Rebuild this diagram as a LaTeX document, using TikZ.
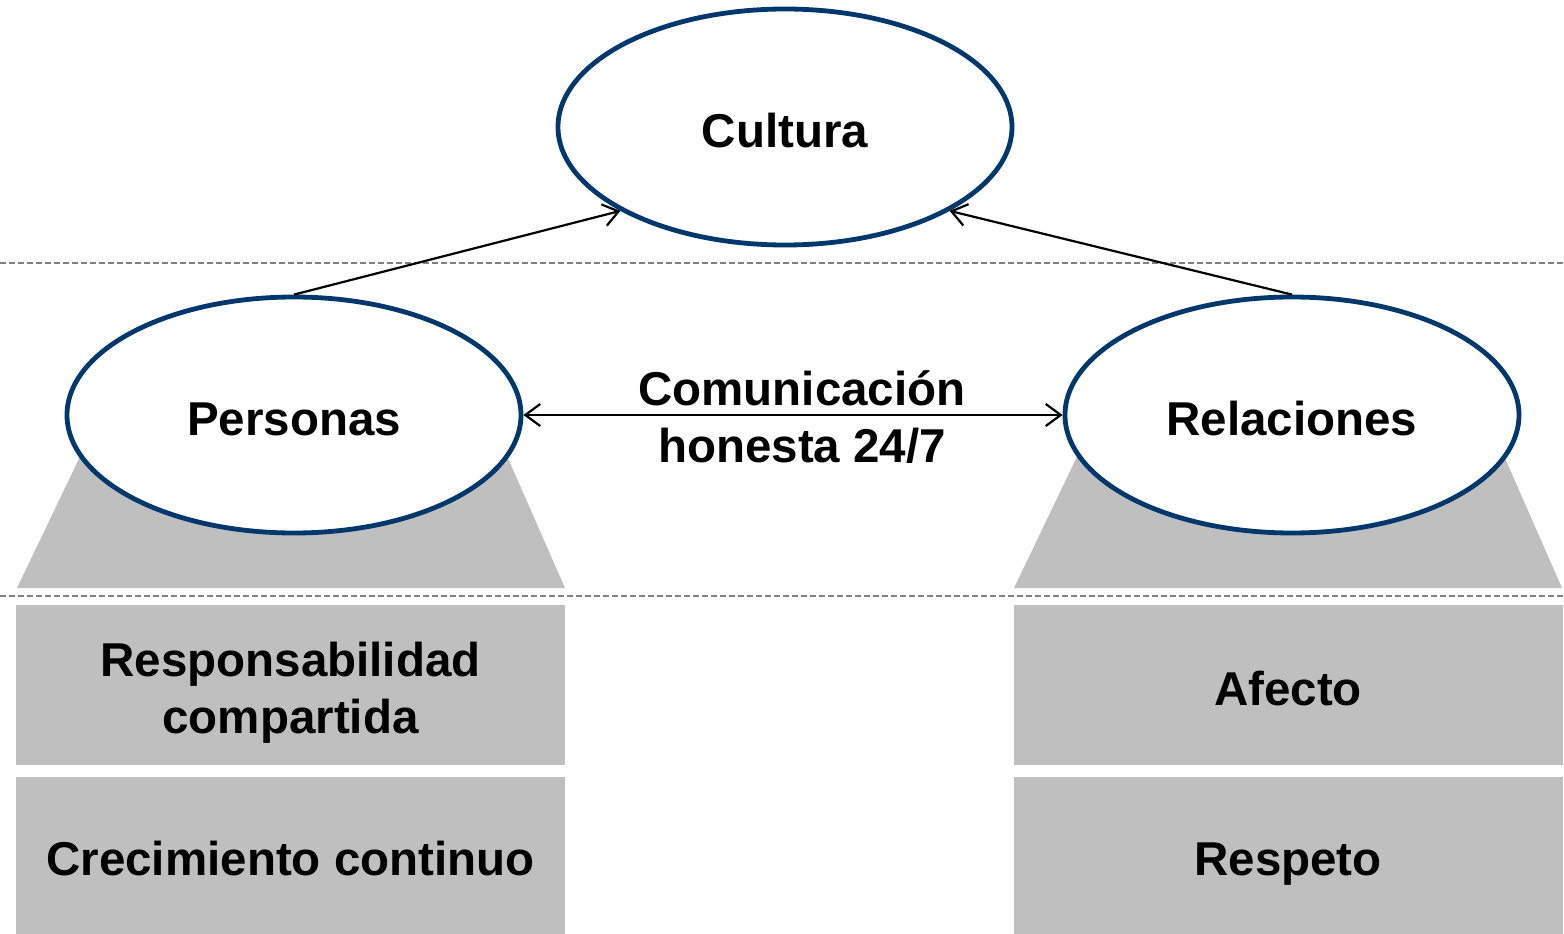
\documentclass[tikz,border=0pt]{standalone}
\usepackage{fontspec}
\setmainfont{Liberation Sans}
\usetikzlibrary{shapes.geometric,arrows.meta}
\definecolor{navy}{RGB}{0,56,110}
\definecolor{boxgray}{RGB}{191,191,191}
\definecolor{dashgray}{RGB}{128,128,128}
\newcommand\lblfont{\fontsize{47.5}{57}\selectfont\bfseries}
\begin{document}
\begin{tikzpicture}[x=1pt,y=-1pt,
  oval/.style={ellipse,draw=navy,line width=4.8pt,fill=white,minimum width=454pt,minimum height=236pt,inner sep=0pt,font=\lblfont,text height=40pt,text depth=0pt},
  graybox/.style={rectangle,fill=boxgray,minimum width=549pt,inner sep=0pt,align=center,font=\lblfont},
  oneline/.style={text height=40pt,text depth=0pt},
  conn/.style={line width=2.2pt,-{Straight Barb[length=15pt,width=22pt]}},
  sep/.style={draw=dashgray,line width=1.5pt,dash pattern=on 6pt off 3pt},
  base/.style={fill=boxgray}]
\useasboundingbox (0,0) rectangle (1564,934);
% dashed separators
\coordinate (s1a) at (0,263); \coordinate (s1b) at (1564,263);
\coordinate (s2a) at (0,596); \coordinate (s2b) at (1564,596);
\draw[sep] (s1a) -- (s1b);
\draw[sep] (s2a) -- (s2b);
% trapezoid bases
\fill[base] (17,588) -- (565,588) -- (500,440) -- (88,440) -- cycle;
\fill[base] (1014,588) -- (1562,588) -- (1497,440) -- (1085,440) -- cycle;
% ellipses
\node[oval] (cultura) at (785,127) {Cultura};
\node[oval] (personas) at (294,415) {Personas};
\node[oval] (relaciones) at (1292,415) {Relaciones};
% boxes
\node[graybox,minimum height=160pt,text height=96pt,text depth=0pt] (resp) at (290.5,685) {Responsabilidad\\compartida};
\node[graybox,oneline,minimum height=157pt] (crec) at (290.5,855.5) {Crecimiento continuo};
\node[graybox,oneline,minimum height=160pt] (afec) at (1288,685) {Afecto};
\node[graybox,oneline,minimum height=157pt] (resp2) at (1288,855.5) {Respeto};
% connectors
\draw[conn] (personas.north) -- (cultura.207.5);
\draw[conn] (relaciones.north) -- (cultura.-27.5);
\draw[conn,{Straight Barb[length=15pt,width=22pt]}-{Straight Barb[length=15pt,width=22pt]}] (personas.east) -- (relaciones.west);
\node[align=center,font=\lblfont,inner sep=0pt,text height=94pt,text depth=0pt] (com) at (802,415) {Comunicación\\honesta 24/7};
\end{tikzpicture}
\end{document}
